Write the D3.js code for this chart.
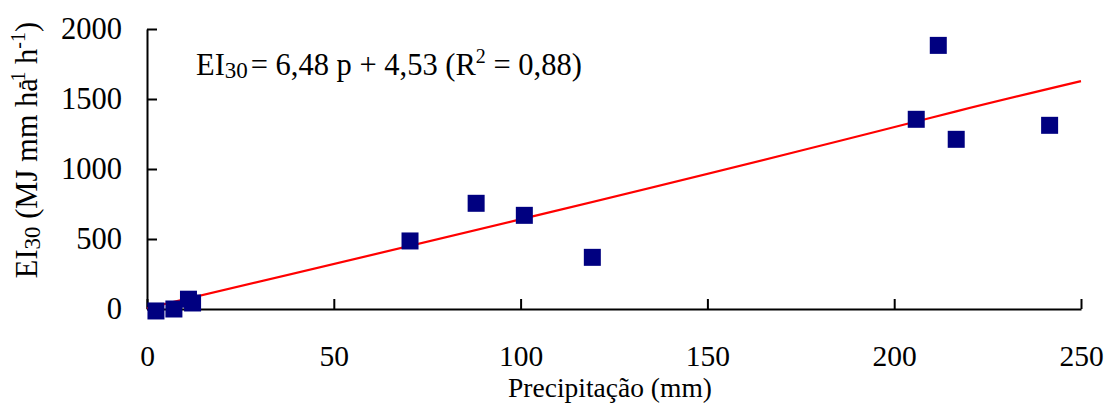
<!DOCTYPE html>
<html>
<head>
<meta charset="utf-8">
<script src="https://cdn.jsdelivr.net/npm/d3@7/dist/d3.min.js"></script>
<style>
  body { margin: 0; background: #fff; }
  .canvas { width: 1107px; height: 409px; }
  text { font-family: "Liberation Serif", "Times New Roman", serif; fill: #000; }
</style>
</head>
<body>
<div class="canvas"></div>
<script>
// data
const precip = [2.4, 7.2, 11.1, 12.2, 70.4, 88.1, 101, 119.2, 205.9, 211.8, 216.6, 241.6];
const ei30   = [-14, 0, 70, 43, 486, 755, 669, 369, 1355, 1883, 1212, 1312];

// trend line (as drawn, slight bend near the right)
const trendX = [0, 205.9, 216.6, 250];
const trendY = [5, 1339, 1412, 1628];

const xTicks = [0, 50, 100, 150, 200, 250];
const yTicks = [0, 500, 1000, 1500, 2000];

//---------------------------
const width = 1107, height = 409;
const fontSize = 30.5;

const svg = d3.select('.canvas').append('svg')
    .attr('width', width)
    .attr('height', height);

const x = d3.scaleLinear().domain([0, 250]).range([147, 1081]);
const y = d3.scaleLinear().domain([0, 2000]).range([309, 29]);

// x axis, ticks pointing up into the plot
const xAxis = d3.axisBottom(x)
    .tickValues(xTicks)
    .tickSizeInner(-10)
    .tickSizeOuter(0)
    .tickPadding(36)
    .tickFormat(d3.format('d'));

const xAxisGroup = svg.append('g')
    .attr('transform', `translate(0, ${y(0)})`)
    .call(xAxis);

// y axis, ticks pointing right into the plot
const yAxis = d3.axisLeft(y)
    .tickValues(yTicks)
    .tickSizeInner(-10)
    .tickSizeOuter(0)
    .tickPadding(25)
    .tickFormat(d3.format('d'));

const yAxisGroup = svg.append('g')
    .attr('transform', `translate(${x(0)}, 0)`)
    .call(yAxis);

[xAxisGroup, yAxisGroup].forEach(g => {
    g.selectAll('path, line').attr('stroke', '#000').attr('stroke-width', 2);
    g.selectAll('text')
        .attr('font-size', fontSize)
        .style('font-family', '"Liberation Serif", "Times New Roman", serif')
        .attr('fill', '#000');
});
// x labels a touch smaller so they clear the title
xAxisGroup.selectAll('text').attr('font-size', 29.5);

// trend line
const line = d3.line()
    .x((d, i) => x(trendX[i]))
    .y(d => y(d))
    .curve(d3.curveMonotoneX);

svg.append('path')
    .datum(trendY)
    .attr('d', line)
    .attr('fill', 'none')
    .attr('stroke', '#ff0000')
    .attr('stroke-width', 2.2);

// points
const sq = 17;
svg.selectAll('rect.pt')
    .data(precip)
    .enter()
    .append('rect')
    .attr('class', 'pt')
    .attr('x', d => x(d) - sq / 2)
    .attr('y', (d, i) => y(ei30[i]) - sq / 2)
    .attr('width', sq)
    .attr('height', sq)
    .attr('fill', '#000080');

// equation
const eq = svg.append('text')
    .attr('x', 196)
    .attr('y', 75)
    .attr('font-size', fontSize);
eq.append('tspan').text('EI');
eq.append('tspan').attr('font-size', 23).attr('dy', 3).text('30');
eq.append('tspan').attr('dy', -3).attr('dx', 3).text('= 6,48 p + 4,53 (R');
eq.append('tspan').attr('font-size', 20).attr('dy', -12).text('2');
eq.append('tspan').attr('dy', 12).text(' = 0,88)');

// x title
svg.append('text')
    .attr('x', 610)
    .attr('y', 397)
    .attr('text-anchor', 'middle')
    .attr('font-size', 27.5)
    .text('Precipitação (mm)');

// y title
const yt = svg.append('text')
    .attr('transform', 'translate(37, 150) rotate(-90)')
    .attr('text-anchor', 'middle')
    .attr('font-size', 30.5);
yt.append('tspan').text('EI');
yt.append('tspan').attr('font-size', 23).attr('dy', 3).text('30');
yt.append('tspan').attr('dy', -3).text(' (MJ mm ha');
yt.append('tspan').attr('font-size', 20).attr('dy', -12).attr('dx', -10).text('-1');
yt.append('tspan').attr('dy', 12).text(' h');
yt.append('tspan').attr('font-size', 20).attr('dy', -12).text('-1');
yt.append('tspan').attr('dy', 12).text(')');
</script>
</body>
</html>
